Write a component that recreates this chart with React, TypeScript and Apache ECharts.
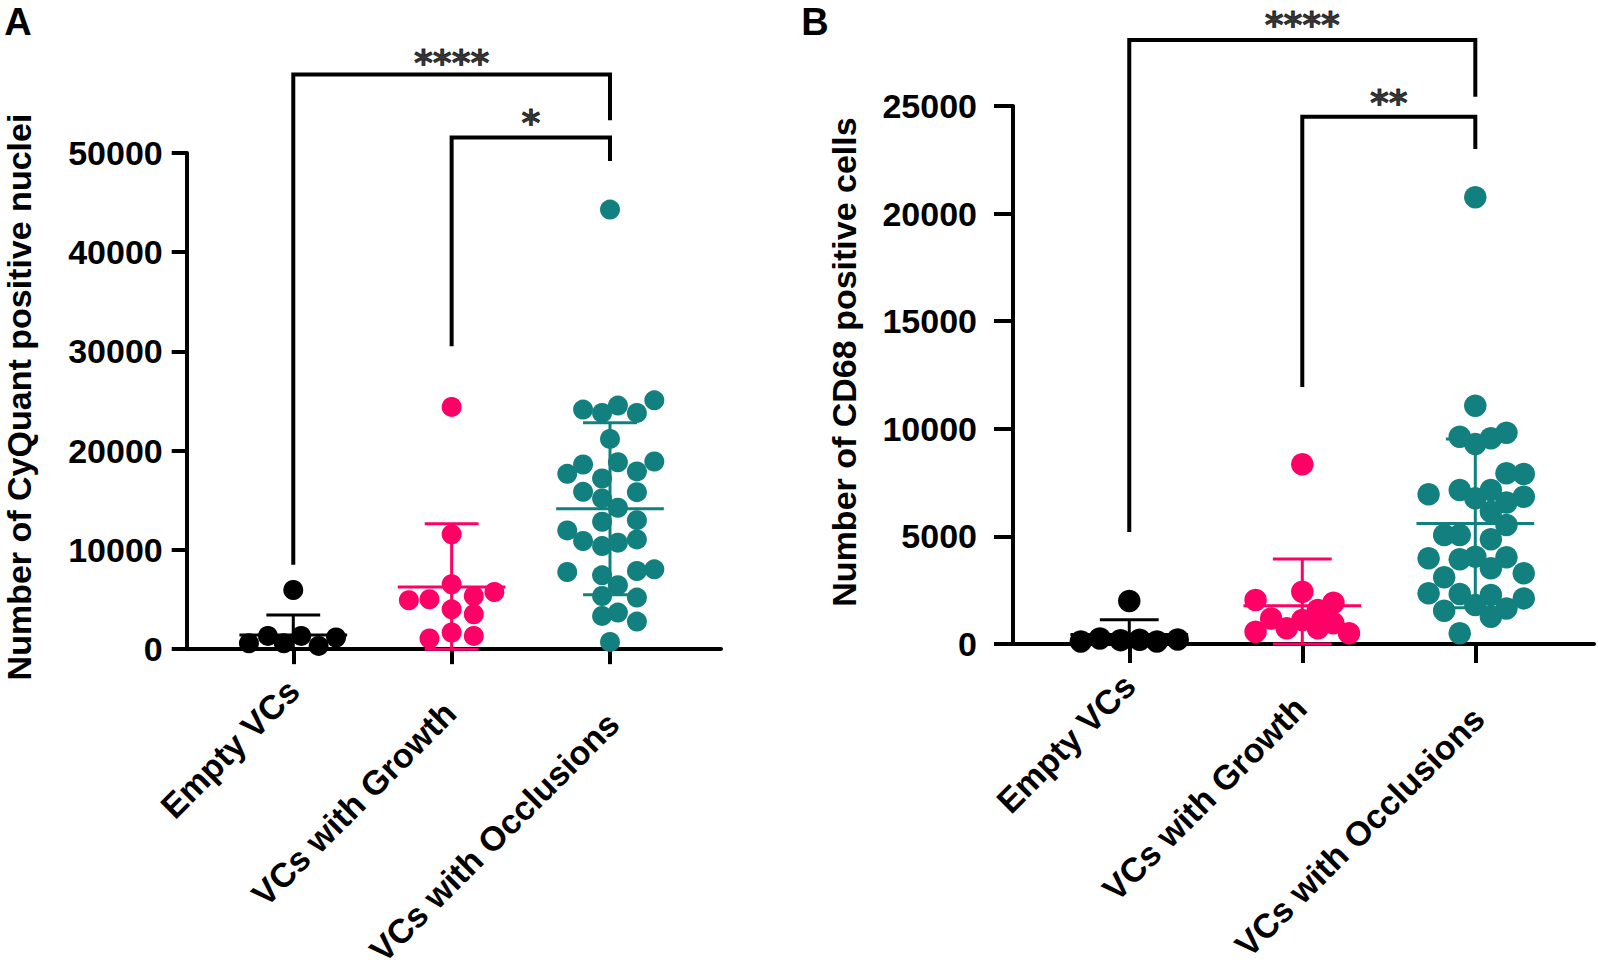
import React, { useEffect, useRef } from "react";
import * as echarts from "echarts";

// ---------- shared ----------
const categories = ["Empty VCs", "VCs with Growth", "VCs with Occlusions"];
const groupColors = ["#000000", "#FF0066", "#12807E"];

// ---------- Panel A: CyQuant positive nuclei ----------
const aEmptyValues = [5965, 600, 1340, 600, 1340, 330, 1175];
const aEmptyJitter = [0, -0.28, -0.16, -0.06, 0.05, 0.16, 0.27];

const aGrowthValues = [24415, 11570, 6540, 4930, 5030, 5360, 5765, 4020, 3520, 1680, 1075, 1340];
const aGrowthJitter = [0, 0, 0, -0.27, -0.14, 0.14, 0.27, 0, 0.14, 0, -0.14, 0.14];

const aOcclValues = [
  44300, 24140, 23810, 24550, 23810, 25080, 21190, 18610, 17670, 18840, 17910, 18910,
  17200, 15860, 15190, 15820, 14250, 12840, 13000, 11970, 10900, 10390, 10730, 11060,
  7780, 7440, 7880, 8050, 6440, 5360, 5200, 3350, 3690, 2780, 730,
];
const aOcclJitter = [
  0, -0.17, -0.05, 0.05, 0.17, 0.28, 0, -0.17, -0.27, 0.05, 0.17, 0.28,
  -0.05, -0.17, -0.05, 0.17, 0.05, -0.05, 0.17, -0.27, -0.17, -0.05, 0.05, 0.17,
  -0.27, -0.05, 0.17, 0.28, 0.05, -0.05, 0.17, -0.05, 0.05, 0.17, 0,
];

const aMeans = [1440, 6270, 14150];
const aSDs = [2010, 6370, 8670];
const aYTicks = { min: 0, max: 50000, interval: 10000 };
// [fromCategory, toCategory, leftFoot, top, rightFoot]
const aBrackets = [
  [0, 2, 8500, 57900, 53300],
  [1, 2, 30530, 51550, 49200],
];
const aStarLabels = ["****", "*"];
const aStarX = [1, 1.5];
const aStarY = [59760, 53800];

// ---------- Panel B: CD68 positive cells ----------
const bEmptyValues = [2000, 120, 260, 180, 200, 120, 210];
const bEmptyJitter = [0, -0.28, -0.17, -0.05, 0.06, 0.16, 0.28];

const bGrowthValues = [8350, 2430, 2045, 1920, 1580, 1190, 1115, 960, 730, 730, 570, 500];
const bGrowthJitter = [0, 0, -0.27, 0.18, 0.09, -0.18, 0, 0.18, -0.09, 0.09, -0.27, 0.27];

const bOcclValues = [
  20760, 11075, 9635, 9295, 9560, 9820, 7930, 7900, 6955, 7155, 6770, 7155,
  6845, 6570, 6150, 5530, 5065, 5065, 4865, 3980, 3935, 4060, 4030, 3515,
  3285, 3100, 2355, 2325, 2280, 1810, 1655, 2120, 1550, 1270, 495,
];
const bOcclJitter = [
  0, 0, -0.09, 0, 0.09, 0.18, 0.18, 0.28, -0.27, -0.09, 0, 0.09,
  0.28, 0.18, 0.09, 0.18, -0.18, -0.09, 0.09, -0.27, -0.09, 0, 0.18, 0.09,
  0.28, -0.18, -0.27, -0.09, 0.09, 0, 0.18, 0.28, -0.18, 0.09, -0.09,
];

const bMeans = [440, 1780, 5605];
const bSDs = [690, 2170, 3920];
const bYTicks = { min: 0, max: 25000, interval: 5000 };
const bBrackets = [
  [0, 2, 5205, 28070, 25430],
  [1, 2, 11940, 24500, 23000],
];
const bStarLabels = ["****", "**"];
const bStarX = [1, 1.5];
const bStarY = [29090, 25465];

// ---------- helpers ----------
const FONT = "'Liberation Sans', Arial, Helvetica, sans-serif";
const STAR_FONT = "'DejaVu Sans', 'Liberation Sans', sans-serif";
const LABEL_SIZE = 34;
// per-label shift of the rotated category labels (top, right, bottom, left padding)
const labelPads = [
  [0, 0, 0, 0],
  [29, 17, 0, 0],
  [51, 21, 0, 0],
];

function dots(values: number[], jitter: number[], cat: number) {
  return values.map((v, i) => [cat + jitter[i], v]);
}

function panelSeries(
  idx: number,
  groups: { values: number[]; jitter: number[] }[],
  means: number[],
  sds: number[],
  brackets: number[][],
  starLabels: string[],
  starX: number[],
  starY: number[],
  dotSize: number,
  starSize: number
) {
  const series: any[] = [];
  groups.forEach((g, cat) => {
    series.push({
      type: "scatter",
      xAxisIndex: idx,
      yAxisIndex: idx,
      data: dots(g.values, g.jitter, cat),
      symbol: "circle",
      symbolSize: dotSize,
      itemStyle: { color: groupColors[cat], opacity: 1 },
      clip: false,
      silent: true,
      z: 2,
    });
  });
  series.push({
    type: "custom",
    xAxisIndex: idx,
    yAxisIndex: idx,
    data: means.map((m, i) => [i, m, sds[i]]),
    encode: { x: 0, y: 1 },
    clip: false,
    silent: true,
    z: 3,
    renderItem: (params: any, api: any) => {
      const c = api.value(0);
      const m = api.value(1);
      const s = api.value(2);
      const hi = m + s;
      const lo = Math.max(0, m - s);
      const color = groupColors[params.dataIndex];
      const seg = (a: number[], b: number[]) => ({
        type: "line",
        shape: { x1: a[0], y1: a[1], x2: b[0], y2: b[1] },
        style: { stroke: color, lineWidth: 3 },
      });
      return {
        type: "group",
        children: [
          seg(api.coord([c - 0.34, m]), api.coord([c + 0.34, m])),
          seg(api.coord([c, lo]), api.coord([c, hi])),
          seg(api.coord([c - 0.17, hi]), api.coord([c + 0.17, hi])),
          seg(api.coord([c - 0.17, lo]), api.coord([c + 0.17, lo])),
        ],
      };
    },
  });
  brackets.forEach((b) => {
    series.push({
      type: "line",
      xAxisIndex: idx,
      yAxisIndex: idx,
      data: [
        [b[0], b[2]],
        [b[0], b[3]],
        [b[1], b[3]],
        [b[1], b[4]],
      ],
      symbol: "none",
      clip: false,
      silent: true,
      lineStyle: { color: "#000", width: 4, cap: "butt", join: "miter" },
      z: 4,
    });
  });
  series.push({
    type: "scatter",
    xAxisIndex: idx,
    yAxisIndex: idx,
    data: starLabels.map((t, i) => ({ value: [starX[i], starY[i]], name: t })),
    symbolSize: 1,
    itemStyle: { color: "rgba(0,0,0,0)" },
    clip: false,
    silent: true,
    label: {
      show: true,
      position: "inside",
      formatter: "{b}",
      color: "#000",
      fontFamily: STAR_FONT,
      fontWeight: "bold",
      fontSize: starSize,
      textBorderColor: "#000",
      textBorderWidth: 0.8,
      offset: [0, starSize * 0.19],
    },
    z: 5,
  });
  return series;
}

function xAxisCfg(idx: number, min: number, max: number, tickLen: number) {
  const rich: any = {};
  labelPads.forEach((p, i) => {
    rich["l" + i] = {
      padding: p,
      color: "#000",
      fontFamily: FONT,
      fontWeight: "bold",
      fontSize: LABEL_SIZE,
    };
  });
  return {
    type: "value",
    gridIndex: idx,
    min,
    max,
    axisLine: { show: true, onZero: false, lineStyle: { color: "#000", width: 4 } },
    axisTick: { show: true, customValues: [0, 1, 2], length: tickLen, lineStyle: { color: "#000", width: 4 } },
    axisLabel: {
      show: true,
      customValues: [0, 1, 2],
      formatter: (v: number) => {
        const i = Math.round(v);
        return categories[i] ? `{l${i}|${categories[i]}}` : "";
      },
      rich,
      rotate: 45,
      margin: 36,
      color: "#000",
      fontFamily: FONT,
      fontWeight: "bold",
      fontSize: LABEL_SIZE,
    },
    splitLine: { show: false },
  };
}

function yAxisCfg(idx: number, t: { min: number; max: number; interval: number }, tickLen: number, margin: number) {
  return {
    type: "value",
    gridIndex: idx,
    min: t.min,
    max: t.max,
    interval: t.interval,
    axisLine: { show: true, onZero: false, lineStyle: { color: "#000", width: 4 } },
    axisTick: { show: true, length: tickLen, lineStyle: { color: "#000", width: 4 } },
    axisLabel: {
      show: true,
      margin,
      formatter: (v: number) => String(v),
      color: "#000",
      fontFamily: FONT,
      fontWeight: "bold",
      fontSize: 34,
    },
    splitLine: { show: false },
  };
}

export default function App() {
  const ref = useRef<HTMLDivElement>(null);
  useEffect(() => {
    if (!ref.current) return;
    const chart = echarts.init(ref.current, undefined, { renderer: "svg" });
    const option: any = {
      animation: false,
      backgroundColor: "#ffffff",
      grid: [
        { left: 186.7, top: 153, width: 534.3, height: 497 },
        { left: 1013, top: 106, width: 581, height: 538 },
      ],
      xAxis: [xAxisCfg(0, -0.673, 2.701, 15), xAxisCfg(1, -0.672, 2.686, 19)],
      yAxis: [yAxisCfg(0, aYTicks, 15, 24), yAxisCfg(1, bYTicks, 19, 36)],
      series: [
        ...panelSeries(
          0,
          [
            { values: aEmptyValues, jitter: aEmptyJitter },
            { values: aGrowthValues, jitter: aGrowthJitter },
            { values: aOcclValues, jitter: aOcclJitter },
          ],
          aMeans,
          aSDs,
          aBrackets,
          aStarLabels,
          aStarX,
          aStarY,
          20,
          36
        ),
        ...panelSeries(
          1,
          [
            { values: bEmptyValues, jitter: bEmptyJitter },
            { values: bGrowthValues, jitter: bGrowthJitter },
            { values: bOcclValues, jitter: bOcclJitter },
          ],
          bMeans,
          bSDs,
          bBrackets,
          bStarLabels,
          bStarX,
          bStarY,
          22.5,
          36
        ),
      ],
      graphic: [
        {
          type: "text",
          x: 18.5,
          y: 397,
          rotation: Math.PI / 2,
          style: {
            text: "Number of CyQuant positive nuclei",
            fill: "#000",
            font: `bold 34px ${FONT}`,
            align: "center",
            verticalAlign: "middle",
          },
        },
        {
          type: "text",
          x: 844,
          y: 362,
          rotation: Math.PI / 2,
          style: {
            text: "Number of CD68 positive cells",
            fill: "#000",
            font: `bold 34px ${FONT}`,
            align: "center",
            verticalAlign: "middle",
          },
        },
        {
          type: "text",
          x: 18,
          y: 22,
          style: { text: "A", fill: "#000", font: `bold 38px ${FONT}`, align: "center", verticalAlign: "middle" },
        },
        {
          type: "text",
          x: 815,
          y: 22,
          style: { text: "B", fill: "#000", font: `bold 38px ${FONT}`, align: "center", verticalAlign: "middle" },
        },
      ],
    };
    chart.setOption(option);
    return () => chart.dispose();
  }, []);
  return (
    <div
      ref={ref}
      style={{ position: "fixed", left: 0, top: 0, width: 1598, height: 970, background: "#fff" }}
    />
  );
}
